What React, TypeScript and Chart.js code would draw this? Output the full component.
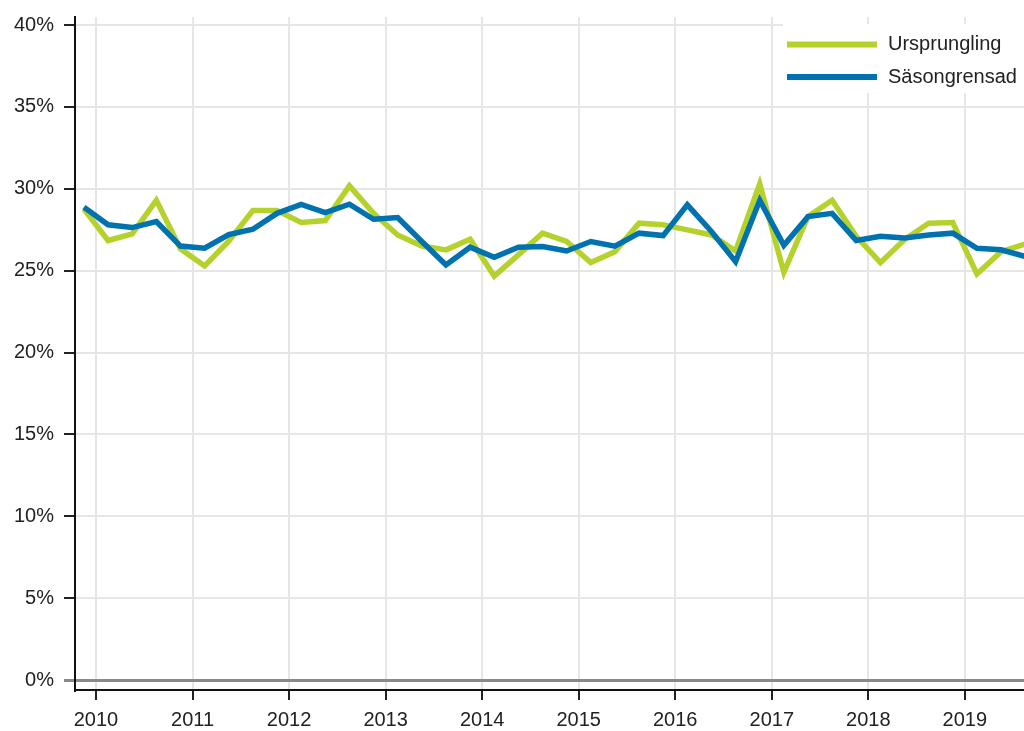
import React, { useEffect, useRef } from "react";
import { Chart, registerables } from "chart.js";

Chart.register(...registerables);

const quarterIndex: number[] = Array.from({ length: 40 }, (_, i) => i);

const ursprungling: number[] = [
  28.76, 26.84, 27.24, 29.29, 26.33, 25.29, 26.8, 28.67, 28.67, 27.94,
  28.06, 30.18, 28.5, 27.18, 26.5, 26.27, 26.92, 24.67, 25.96, 27.29,
  26.78, 25.49, 26.16, 27.9, 27.8, 27.49, 27.18, 26.2, 30.3, 24.9,
  28.3, 29.3, 27.1, 25.49, 26.9, 27.9, 27.94, 24.8, 26.16, 26.63,
];

const sasongrensad: number[] = [
  28.88, 27.8, 27.63, 28.0, 26.5, 26.37, 27.2, 27.53, 28.5, 29.04,
  28.55, 29.06, 28.14, 28.24, 26.78, 25.35, 26.43, 25.82, 26.43, 26.47,
  26.2, 26.78, 26.5, 27.29, 27.14, 29.02, 27.39, 25.55, 29.3, 26.55,
  28.3, 28.5, 26.84, 27.1, 27.0, 27.18, 27.29, 26.37, 26.27, 25.86,
];

const yearLabels: string[] = ["2010", "2011", "2012", "2013", "2014", "2015", "2016", "2017", "2018", "2019"];
const yearTickPositions: number[] = [0.5, 4.5, 8.5, 12.5, 16.5, 20.5, 24.5, 28.5, 32.5, 36.5];
const yTickValues: number[] = [0, 5, 10, 15, 20, 25, 30, 35, 40];

const seriesNames: string[] = ["Ursprungling", "Säsongrensad"];
const GREEN = "#b5d22c";
const BLUE = "#0072b0";
const FONT = "'Liberation Sans', Arial, sans-serif";

const legendPlugin = {
  id: "customLegend",
  afterDraw(chart: any) {
    const ctx = chart.ctx;
    const area = chart.chartArea;
    const boxX = area.right - 241;
    const boxY = area.top + 7;
    ctx.save();
    ctx.fillStyle = "#ffffff";
    ctx.fillRect(boxX, boxY, 260, 69);
    const colors = [GREEN, BLUE];
    const rows = [boxY + 20.5, boxY + 53];
    seriesNames.forEach((name, i) => {
      ctx.strokeStyle = colors[i];
      ctx.lineWidth = 6;
      ctx.beginPath();
      ctx.moveTo(boxX + 4, rows[i]);
      ctx.lineTo(boxX + 94, rows[i]);
      ctx.stroke();
      ctx.fillStyle = "#222222";
      ctx.font = `20px ${FONT}`;
      ctx.textAlign = "left";
      ctx.textBaseline = "middle";
      ctx.fillText(name, boxX + 105, rows[i]);
    });
    ctx.restore();
  },
};

export default function App() {
  const canvasRef = useRef<HTMLCanvasElement | null>(null);

  useEffect(() => {
    if (!canvasRef.current) return;
    const chart = new Chart(canvasRef.current, {
      type: "line",
      data: {
        datasets: [
          {
            label: seriesNames[0],
            data: quarterIndex.map((x, i) => ({ x, y: ursprungling[i] })),
            borderColor: GREEN,
            borderWidth: 5.5,
            pointRadius: 0,
            tension: 0,
            order: 1,
          },
          {
            label: seriesNames[1],
            data: quarterIndex.map((x, i) => ({ x, y: sasongrensad[i] })),
            borderColor: BLUE,
            borderWidth: 5.5,
            pointRadius: 0,
            tension: 0,
            order: 0,
          },
        ],
      },
      options: {
        animation: false,
        responsive: false,
        maintainAspectRatio: false,
        layout: { padding: { top: 17, right: 0, left: 0, bottom: 0 } },
        plugins: {
          legend: { display: false },
          tooltip: { enabled: false },
        },
        scales: {
          x: {
            type: "linear",
            min: -0.37,
            max: 38.95,
            afterBuildTicks: (scale: any) => {
              scale.ticks = yearTickPositions.map((v) => ({ value: v }));
            },
            afterFit: (scale: any) => {
              scale.height = 41;
              scale.paddingLeft = 0;
              scale.paddingRight = 0;
            },
            ticks: {
              autoSkip: false,
              maxRotation: 0,
              padding: 8,
              color: "#222222",
              font: { family: FONT, size: 20 },
              callback: (_v: any, i: number) => yearLabels[i],
            },
            grid: {
              color: "#e6e6e6",
              lineWidth: 2,
              tickColor: "#222222",
              tickWidth: 2,
              tickLength: 10,
            },
            border: { display: true, color: "#111111", width: 2 },
          },
          y: {
            type: "linear",
            min: -0.61,
            max: 40.49,
            afterBuildTicks: (scale: any) => {
              scale.ticks = yTickValues.map((v) => ({ value: v }));
            },
            afterFit: (scale: any) => {
              scale.width = 75;
              scale.paddingTop = 0;
              scale.paddingBottom = 0;
            },
            ticks: {
              padding: 10,
              color: "#222222",
              font: { family: FONT, size: 20 },
              callback: (v: any) => `${v}%`,
            },
            grid: {
              color: (c: any) => (c.tick && c.tick.value === 0 ? "#8a8a8a" : "#e6e6e6"),
              lineWidth: (c: any) => (c.tick && c.tick.value === 0 ? 3 : 2),
              tickColor: (c: any) => (c.tick && c.tick.value === 0 ? "#8a8a8a" : "#222222"),
              tickWidth: (c: any) => (c.tick && c.tick.value === 0 ? 3 : 2),
              tickLength: 11,
            },
            border: { display: true, color: "#111111", width: 2 },
          },
        },
      },
      plugins: [legendPlugin],
    });
    return () => chart.destroy();
  }, []);

  return (
    <div style={{ position: "fixed", left: 0, top: 0, width: 1024, height: 731, background: "#fff" }}>
      <canvas ref={canvasRef} width={1024} height={731} style={{ display: "block" }} />
    </div>
  );
}
